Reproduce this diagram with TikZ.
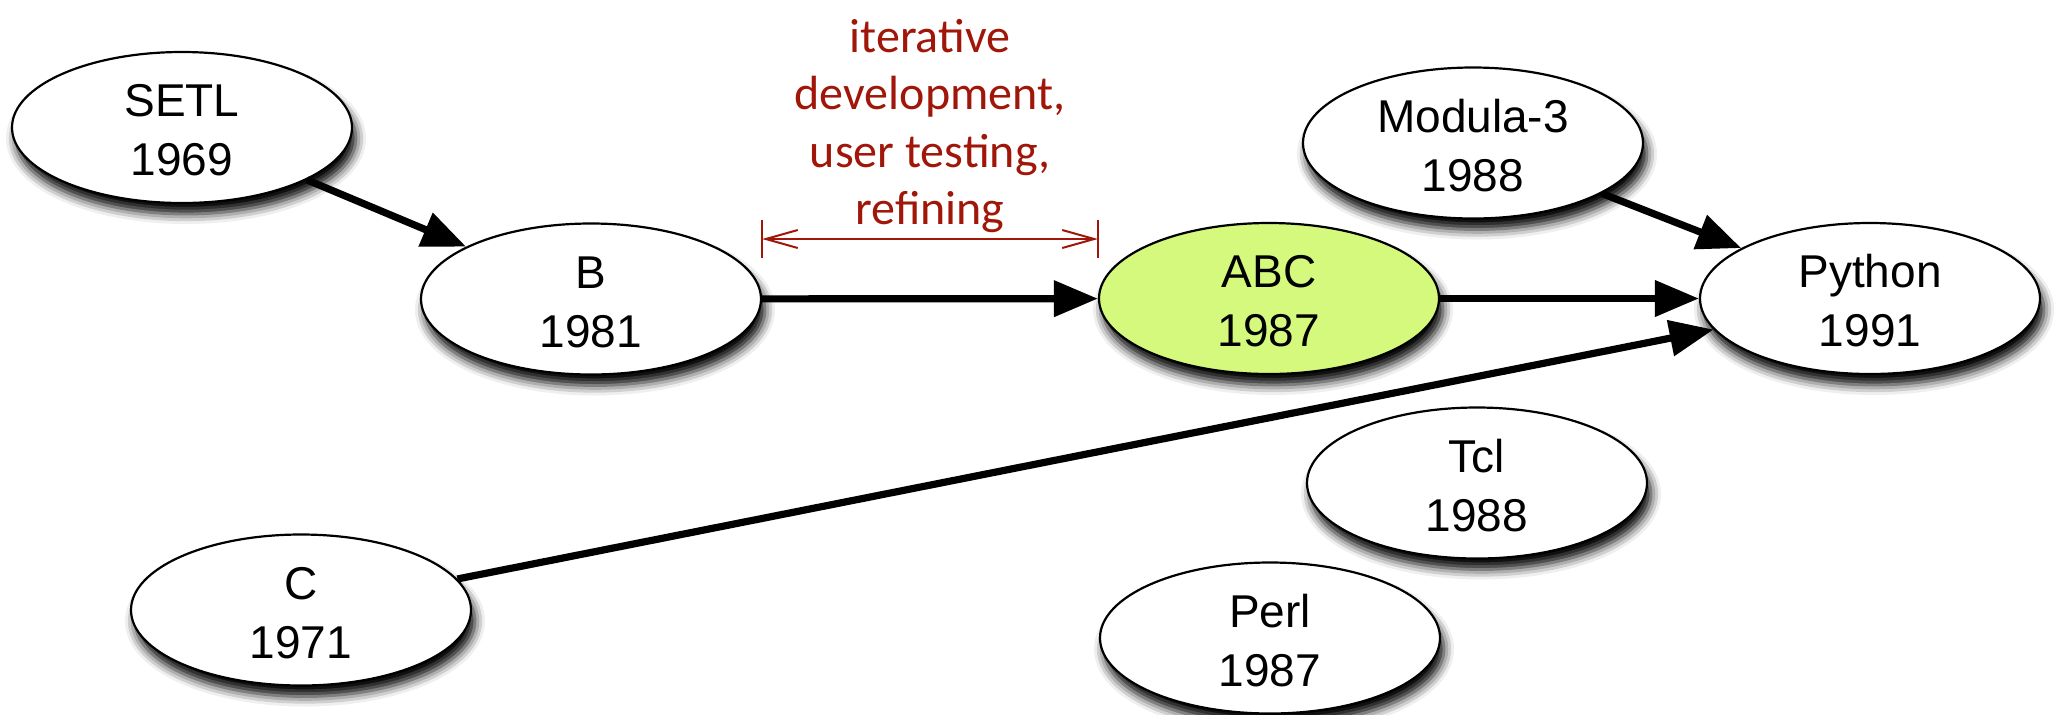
\documentclass[tikz,border=0pt]{standalone}
\usepackage{fontspec}
\setmainfont{Liberation Sans}
\newfontfamily\notefont{Carlito}
\usetikzlibrary{shapes.geometric,arrows.meta,shadows.blur}
\definecolor{notered}{RGB}{160,22,8}
\definecolor{abcgreen}{RGB}{212,249,125}
\tikzset{
  lang/.style={ellipse, draw=black, line width=1.1pt, fill=white,
    minimum width=170pt, minimum height=75.5pt, inner sep=0pt, align=center,
    font=\fontsize{23}{29.5}\selectfont,
    text height=48pt, text depth=0pt,
    blur shadow={shadow xshift=2pt, shadow yshift=-5.5pt,
      shadow blur radius=5pt, shadow opacity=100}},
  link/.style={line width=3.6pt, -{Triangle[length=22pt,width=17.5pt]}},
  span/.style={draw=notered, line width=1pt,
    {Straight Barb[length=16pt,width=9pt]}-{Straight Barb[length=16pt,width=9pt]}},
  spanbar/.style={draw=notered, line width=1pt},
}
\begin{document}
\begin{tikzpicture}[x=0.5pt,y=-0.5pt]
\useasboundingbox (0,0) rectangle (2058,714);

% language nodes
\node[lang] (setl)   at (182,127.5)  {SETL\\1969};
\node[lang] (b)      at (591,299)    {B\\1981};
\node[lang, fill=abcgreen] (abc) at (1269,298.5) {ABC\\1987};
\node[lang] (modula) at (1473,143)   {Modula-3\\1988};
\node[lang] (python) at (1870,298.5) {Python\\1991};
\node[lang] (c)      at (301,610)    {C\\1971};
\node[lang] (tcl)    at (1477,483)   {Tcl\\1988};
\node[lang] (perl)   at (1270,638)   {Perl\\1987};

% influences
\draw[link] (setl) -- (b);
\draw[link] (b) -- (abc);
\draw[link] (abc) -- (python);
\draw[link] (modula) -- (python);
\draw[link] (c) -- (python);

% span of the ABC development phase
\coordinate (spanrow) at (0,239);
\coordinate (spanL) at (b.east |- spanrow);
\coordinate (spanR) at (abc.west |- spanrow);
\draw[span] (spanL) -- (spanR);
\draw[spanbar] (spanL) ++(0,-19) -- ++(0,38);
\draw[spanbar] (spanR) ++(0,-19) -- ++(0,38);
\node[text=notered, font=\notefont\fontsize{24}{28.7}\selectfont, align=center,
  inner sep=0pt] (note) at (930,126)
  {iterative\\development,\\user testing,\\refining};
\end{tikzpicture}
\end{document}
